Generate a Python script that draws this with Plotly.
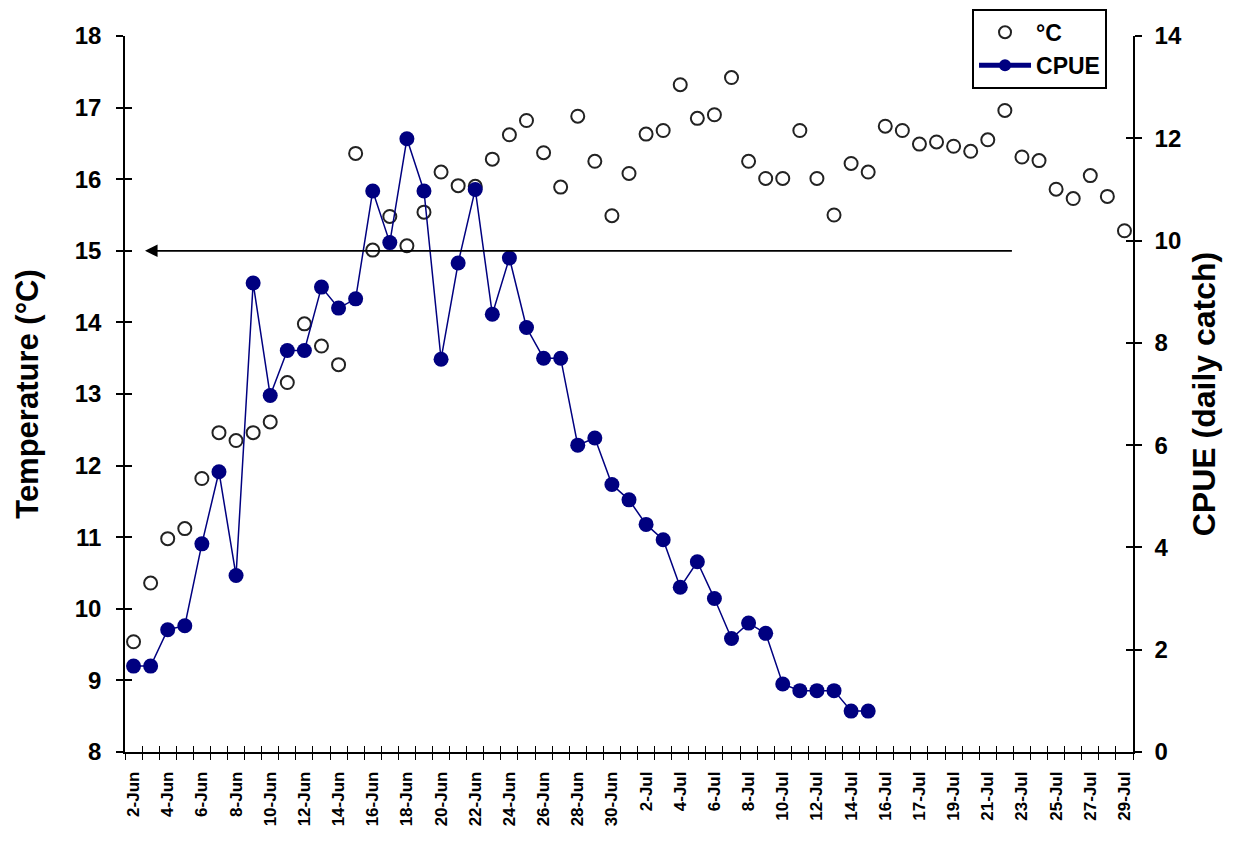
import plotly.graph_objects as go

# ---- data ----
dates = ([f"{d}-Jun" for d in range(2, 31)] + [f"{d}-Jul" for d in range(1, 17)]
         + ["16-Jul"] + [f"{d}-Jul" for d in range(17, 30)])

temperature = [9.54, 10.36, 10.98, 11.12, 11.82, 12.46, 12.35, 12.46, 12.61, 13.16,
               13.98, 13.67, 13.41, 16.36, 15.01, 15.48, 15.07, 15.54, 16.10, 15.91,
               15.90, 16.28, 16.62, 16.82, 16.37, 15.89, 16.88, 16.25, 15.49, 16.08,
               16.63, 16.68, 17.32, 16.85, 16.90, 17.42, 16.25, 16.01, 16.01, 16.68,
               16.01, 15.50, 16.22, 16.10, 16.74, 16.68, 16.49, 16.52, 16.46, 16.39,
               16.55, 16.96, 16.31, 16.26, 15.86, 15.73, 16.05, 15.76, 15.28]

cpue = [1.68, 1.68, 2.39, 2.47, 4.07, 5.48, 3.45, 9.17, 6.97, 7.85,
        7.85, 9.09, 8.68, 8.86, 10.97, 9.96, 11.99, 10.97, 7.68, 9.56,
        11.00, 8.56, 9.66, 8.30, 7.70, 7.70, 6.00, 6.14, 5.23, 4.93,
        4.45, 4.15, 3.22, 3.72, 3.00, 2.22, 2.52, 2.32, 1.33, 1.20,
        1.20, 1.20, 0.80, 0.80]

threshold_temp = 15
arrow_from, arrow_to = 51.5, 0.67

x = list(range(len(dates)))
boundaries = [i - 0.5 for i in range(len(dates) + 1)]
xr = [-0.5, len(dates) - 0.5]

FONT = "Liberation Sans, Arial, sans-serif"

fig = go.Figure()
fig.add_trace(go.Scatter(
    x=x, y=temperature, name="°C", mode="markers",
    marker=dict(symbol="circle-open", size=13, color="#222222", line=dict(width=2)),
    yaxis="y"))
fig.add_trace(go.Scatter(
    x=x[:len(cpue)], y=cpue, name="CPUE", mode="lines+markers",
    line=dict(color="#000080", width=1.5),
    marker=dict(symbol="circle", size=15, color="#000080"),
    yaxis="y2"))

# dummy traces so the tick-overlay axes render (cross ticks)
fig.add_trace(go.Scatter(x=[None], y=[None], xaxis="x2", yaxis="y", showlegend=False, hoverinfo="skip"))
fig.add_trace(go.Scatter(x=[None], y=[None], xaxis="x", yaxis="y3", showlegend=False, hoverinfo="skip"))
fig.add_trace(go.Scatter(x=[None], y=[None], xaxis="x", yaxis="y4", showlegend=False, hoverinfo="skip"))

tickf = dict(family=FONT, size=24, color="black", weight="bold")

fig.update_layout(
    width=1227, height=836,
    margin=dict(l=117, r=102, t=28, b=92, autoexpand=False),
    plot_bgcolor="white", paper_bgcolor="white",
    font=dict(family=FONT, color="black"),
    xaxis=dict(range=xr, tickmode="array", tickvals=x[0::2], ticktext=dates[0::2],
               tickangle=-90, tickfont=dict(family=FONT, size=17, color="black", weight="bold"),
               ticks="", showline=True, linecolor="black", linewidth=1.5,
               showgrid=False, zeroline=False, ticklabelstandoff=11,
               minor=dict(tickmode="array", tickvals=boundaries, ticks="outside",
                          ticklen=6, tickwidth=1.3, tickcolor="black", showgrid=False)),
    xaxis2=dict(range=xr, overlaying="x", anchor="y", side="bottom", tickmode="array",
                tickvals=boundaries, ticks="inside", ticklen=6, tickwidth=1.3, tickcolor="black",
                showticklabels=False, showline=False, showgrid=False, zeroline=False),
    yaxis=dict(range=[8, 18], dtick=1, ticks="outside", ticklen=7, tickwidth=1.5,
               tickcolor="black", tickfont=tickf, showline=True, linecolor="black", linewidth=1.5,
               showgrid=False, zeroline=False, ticklabelstandoff=10,
               title=dict(text="Temperature (°C)", font=dict(family=FONT, size=31, weight="bold"),
                          standoff=27)),
    yaxis2=dict(range=[0, 14], dtick=2, overlaying="y", side="right", anchor="x",
                ticks="outside", ticklen=7, tickwidth=1.5, tickcolor="black",
                tickfont=tickf, showline=True, linecolor="black", linewidth=1.5,
                showgrid=False, zeroline=False, ticklabelstandoff=8,
                title=dict(text="CPUE (daily catch)", font=dict(family=FONT, size=32, weight="bold"),
                           standoff=12)),
    yaxis3=dict(range=[8, 18], dtick=1, overlaying="y", side="left", anchor="x",
                ticks="inside", ticklen=7, tickwidth=1.5, tickcolor="black",
                showticklabels=False, showline=False, showgrid=False, zeroline=False),
    yaxis4=dict(range=[0, 14], dtick=2, overlaying="y", side="right", anchor="x",
                ticks="inside", ticklen=7, tickwidth=1.5, tickcolor="black",
                showticklabels=False, showline=False, showgrid=False, zeroline=False),
    legend=dict(x=0.8403, y=1.038, xanchor="left", yanchor="top",
                bgcolor="white", bordercolor="black", borderwidth=2,
                font=dict(family=FONT, size=23, color="black", weight="bold"),
                itemsizing="constant", itemwidth=52, tracegroupgap=0),
    showlegend=True,
)

fig.add_annotation(x=arrow_to, y=threshold_temp, xref="x", yref="y",
                   ax=arrow_from, ay=threshold_temp, axref="x", ayref="y",
                   text="", showarrow=True, arrowhead=2, arrowsize=1.4,
                   arrowwidth=1.8, arrowcolor="black")

fig.write_html("out.html")
